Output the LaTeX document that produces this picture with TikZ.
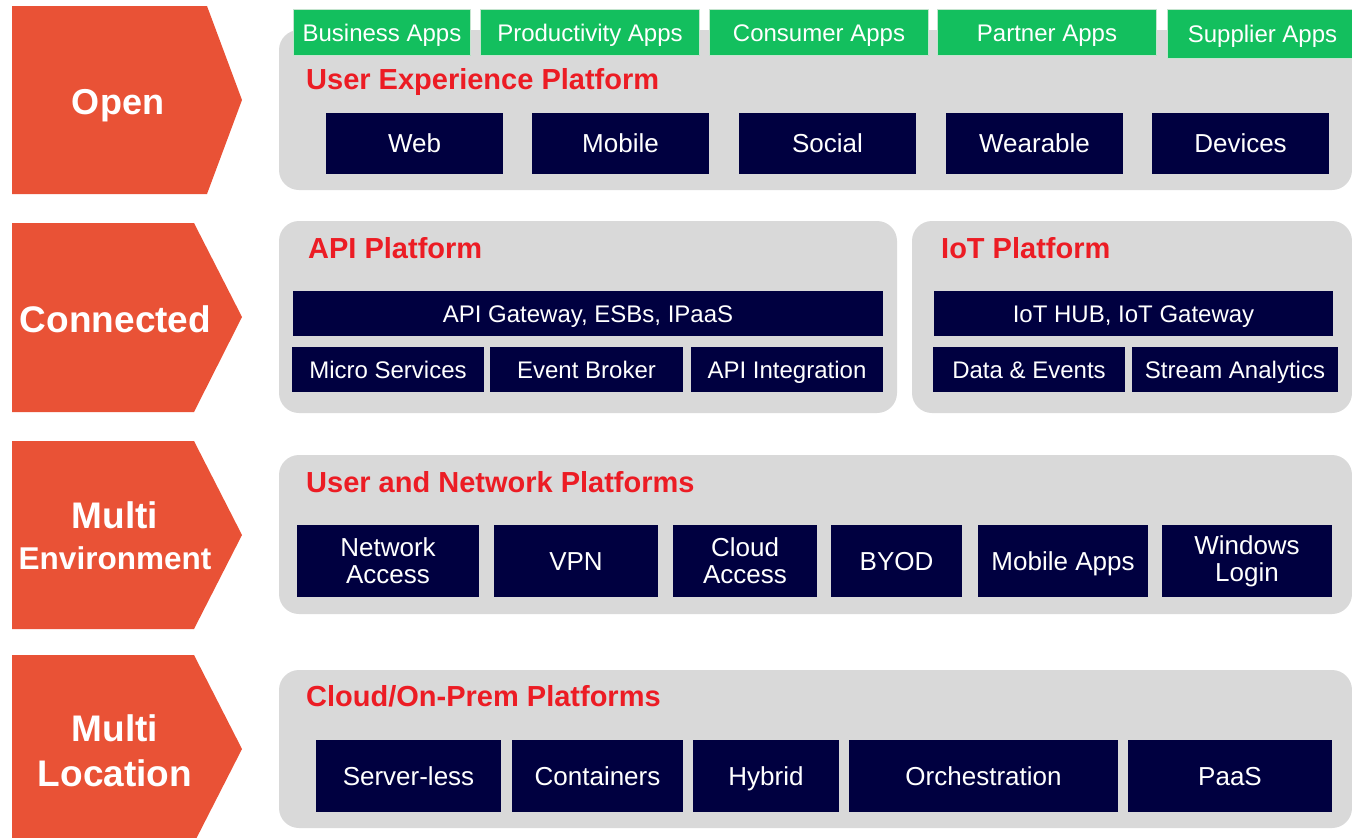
\documentclass[tikz,border=0pt]{standalone}
\usepackage{fontspec}
\setmainfont{Liberation Sans}
\usepackage{xcolor}
\usetikzlibrary{positioning}
\definecolor{archorange}{RGB}{233,82,54}
\definecolor{archgray}{RGB}{217,217,217}
\definecolor{archnavy}{RGB}{0,0,64}
\definecolor{archgreen}{RGB}{19,191,94}
\definecolor{archtabedge}{RGB}{196,228,206}
\definecolor{archred}{RGB}{236,28,36}
\newcommand{\archfont}[2]{\fontsize{#1bp}{#2bp}\selectfont}
\tikzset{
  every picture/.append style={line cap=round,line join=round},
  arch chevron/.style={fill=archorange},
  arch label/.style={text=white,font=\bfseries\archfont{37}{42},align=center,inner sep=0pt,anchor=base},
  arch panel/.style={fill=archgray,rounded corners=20bp},
  arch title/.style={text=archred,font=\bfseries\archfont{29}{33},anchor=west,inner sep=0pt,text height=20.8bp,text depth=0pt},
  arch box/.style={fill=archnavy,text=white,font=\archfont{26}{27},align=center,inner sep=0pt,outer sep=0pt,anchor=north west},
  arch line/.style={text height=18.6bp,text depth=0pt},
  arch small/.style={font=\archfont{24}{27},text height=17.2bp,text depth=0pt},
  arch tab/.style={fill=archgreen,draw=archtabedge,line width=1bp,text=white,inner sep=0pt,anchor=north west,arch small},
  wh/.style 2 args={minimum width=#1bp,minimum height=#2bp}
}

\begin{document}
\begin{tikzpicture}[x=1bp,y=-1bp]
\useasboundingbox (0,0) rectangle (1352,837);
% left chevrons
\fill[arch chevron] (12,6) -- (207,6) -- (242,100) -- (207,194) -- (12,194) -- cycle;
\fill[arch chevron] (12,223) -- (194,223) -- (242,317) -- (194,412) -- (12,412) -- cycle;
\fill[arch chevron] (12,441) -- (194,441) -- (242,535) -- (194,629) -- (12,629) -- cycle;
\fill[arch chevron] (12,655) -- (194,655) -- (242,749) -- (194,843) -- (12,843) -- cycle;
\node[arch label,font=\bfseries\archfont{36}{42}] (open) at (118,114) {Open};
\node[arch label] (connected) at (115.5,332) {Connected};
\node[arch label,font=\bfseries\archfont{37}{41}] (multienv) at (115,569) {Multi\\{\archfont{31.5}{41}Environment}};
\node[arch label,font=\bfseries\archfont{37}{45}] (multiloc) at (115,786) {Multi\\Location};
% grey platform panels
\fill[arch panel] (279,30) rectangle (1352,190);
\fill[arch panel] (279,221) rectangle (897,413);
\fill[arch panel] (912,221) rectangle (1352,413);
\fill[arch panel] (279,455) rectangle (1352,614);
\fill[arch panel] (279,670) rectangle (1352,828);
% green app tabs
\foreach \nm/\x/\w/\lbl in {business/293/177/Business Apps,productivity/480/219/Productivity Apps,
    consumer/709/219/Consumer Apps,partner/937/219/Partner Apps}
  \node[arch tab,wh={\w}{46}] (\nm) at (\x,9) {\lbl};
\node[arch tab,wh={190}{49}] (supplier) at (1167,9) {Supplier Apps};
% titles
\node[arch title] (uxtitle) at (306,79) {User Experience Platform};
\node[arch title] (apititle) at (308,248.5) {API Platform};
\node[arch title] (iottitle) at (941,248.5) {IoT Platform};
\node[arch title] (nettitle) at (306,482) {User and Network Platforms};
\node[arch title] (cloudtitle) at (306,696.5) {Cloud/On-Prem Platforms};
% user experience channels
\foreach \nm/\x/\lbl in {web/326/Web,mobile/532/Mobile,social/739/Social,wearable/946/Wearable,devices/1152/Devices}
  \node[arch box,arch line,wh={177}{61}] (\nm) at (\x,113) {\lbl};
% api and iot
\node[arch box,arch small,wh={590}{45}] (apigw) at (293,291) {API Gateway, ESBs, IPaaS};
\foreach \nm/\x/\w/\lbl in {micro/292/192/Micro Services,broker/490/193/Event Broker,apiint/691/192/API Integration,
    dataev/933/192/Data \& Events,stream/1132/206/Stream Analytics}
  \node[arch box,arch small,wh={\w}{45}] (\nm) at (\x,347) {\lbl};
\node[arch box,arch small,wh={399}{45}] (iothub) at (934,291) {IoT HUB, IoT Gateway};
% user and network
\node[arch box,wh={182}{72}] (netacc) at (297,525) {Network\\Access};
\node[arch box,arch line,wh={164}{72}] (vpn) at (494,525) {VPN};
\node[arch box,wh={144}{72}] (cloudacc) at (673,525) {Cloud\\Access};
\node[arch box,arch line,wh={131}{72}] (byod) at (831,525) {BYOD};
\node[arch box,arch line,wh={170}{72}] (mobapps) at (978,525) {Mobile Apps};
\node[arch box,wh={170}{72}] (winlogin) at (1162,525) {Windows\\Login};
% cloud and on-prem
\foreach \nm/\x/\w/\lbl in {serverless/316/185/Server-less,containers/512/171/Containers,hybrid/693/146/Hybrid,
    orchestration/849/269/Orchestration,paas/1128/204/PaaS}
  \node[arch box,arch line,wh={\w}{72}] (\nm) at (\x,740) {\lbl};
\end{tikzpicture}
\end{document}
